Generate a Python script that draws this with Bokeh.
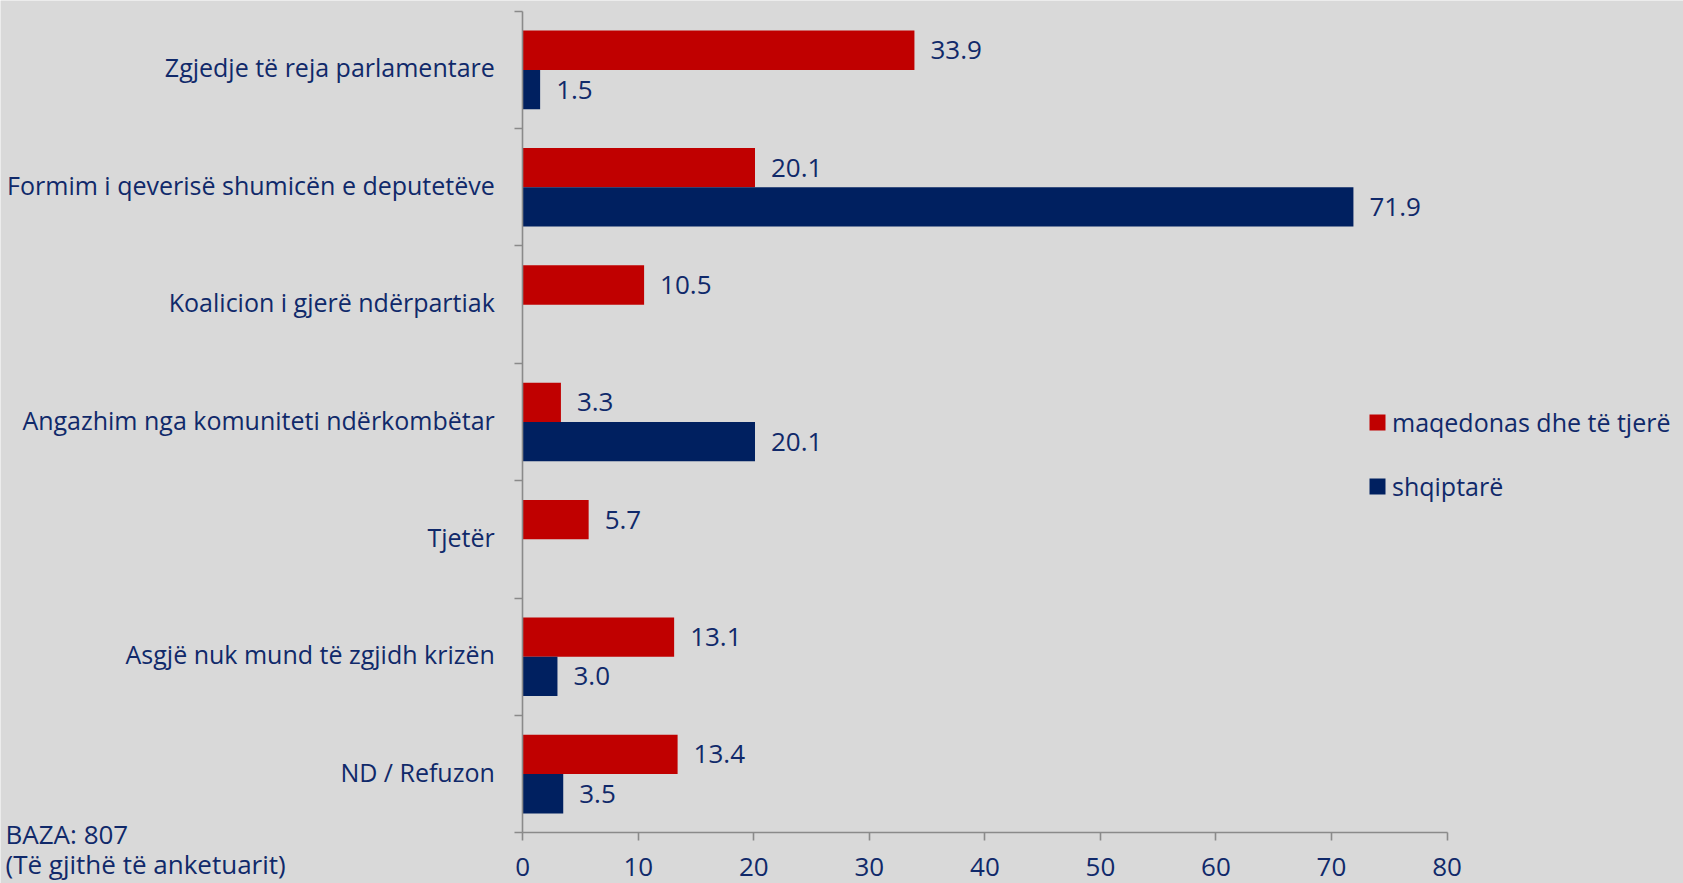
from bokeh.plotting import figure
from bokeh.models import (ColumnDataSource, FixedTicker, Label, LabelSet, Legend,
                          LegendItem, Range1d)
from bokeh.embed import file_html
from bokeh.resources import INLINE
from bokeh.core.properties import value

# ---------------- data ----------------
categories = [
    "Zgjedje të reja parlamentare",
    "Formim i qeverisë shumicën e deputetëve",
    "Koalicion i gjerë ndërpartiak",
    "Angazhim nga komuniteti ndërkombëtar",
    "Tjetër",
    "Asgjë nuk mund të zgjidh krizën",
    "ND / Refuzon",
]
maqedonas = [33.9, 20.1, 10.5, 3.3, 5.7, 13.1, 13.4]
shqiptare = [1.5, 71.9, None, 20.1, None, 3.0, 3.5]
series_names = ["maqedonas dhe të tjerë", "shqiptarë"]
x_ticks = [0, 10, 20, 30, 40, 50, 60, 70, 80]
base_note = ["BAZA: 807", "(Të gjithë të anketuarit)"]

# ---------------- style / layout ----------------
BG = "#D9D9D9"
RED = "#C00000"
BLUE = "#002060"
TXT = "#10296A"
AX = "#8A8A8A"
FONT = "Open Sans"
FS_NUM = "26px"
FS_CAT = "25px"
FS_NOTE = "26px"
BAR_H = 0.335

W, H = 1683, 883
X_MIN, X_MAX = x_ticks[0], x_ticks[-1]
X0_PX, X1_PX = 522.3, 1446.5      # pixel position of axis start / end
Y_TOP_PX, Y_BOT_PX = 10.7, 832.3  # pixel position of category axis top / bottom

n = len(categories)
sx = (X1_PX - X0_PX) / (X_MAX - X_MIN)
sy = (Y_BOT_PX - Y_TOP_PX) / n
x_range = Range1d(X_MIN - X0_PX / sx, X_MAX + (W - X1_PX) / sx)
y_range = Range1d(-(H - Y_BOT_PX) / sy, n + Y_TOP_PX / sy)

centers = [n - 0.5 - i for i in range(n)]
LABEL_NUDGE = 2.5 / sy  # small upward nudge of category labels

red_src = ColumnDataSource(dict(
    y=[c + BAR_H / 2 for c in centers],
    v=maqedonas,
    lab=[f"{v:.1f}" for v in maqedonas],
))
blue_rows = [(c - BAR_H / 2, v) for c, v in zip(centers, shqiptare) if v is not None]
blue_src = ColumnDataSource(dict(
    y=[r[0] for r in blue_rows],
    v=[r[1] for r in blue_rows],
    lab=[f"{r[1]:.1f}" for r in blue_rows],
))

p = figure(width=W, height=H, x_range=x_range, y_range=y_range,
           output_backend="svg", toolbar_location=None, tools="",
           min_border=0, background_fill_color=BG, border_fill_color=BG,
           outline_line_color=None)
p.grid.visible = False

r_red = p.hbar(y="y", left=0, right="v", height=BAR_H, source=red_src,
               fill_color=RED, line_color=None)
r_blue = p.hbar(y="y", left=0, right="v", height=BAR_H, source=blue_src,
                fill_color=BLUE, line_color=None)

for src in (red_src, blue_src):
    p.add_layout(LabelSet(x="v", y="y", text="lab", source=src, x_offset=16,
                          text_baseline="middle", text_align="left",
                          text_font=value(FONT), text_font_size=value(FS_NUM),
                          text_color=value(TXT)))

# x axis (drawn at y = 0, spanning 0..80)
xa = p.xaxis[0]
xa.fixed_location = 0
xa.bounds = (X_MIN, X_MAX)
xa.ticker = FixedTicker(ticks=x_ticks)
xa.major_tick_out = 8
xa.major_tick_in = 0
xa.minor_tick_out = 0
xa.minor_tick_in = 0
xa.axis_line_color = AX
xa.axis_line_width = 1.6
xa.major_tick_line_color = AX
xa.major_tick_line_width = 1.6
xa.major_label_text_font = FONT
xa.major_label_text_font_size = FS_NUM
xa.major_label_text_color = TXT
xa.major_label_standoff = 17

# y axis (drawn at x = 0), labels at category centres, ticks at boundaries
label_pos = [c + LABEL_NUDGE for c in centers]
ya = p.yaxis[0]
ya.fixed_location = 0
ya.bounds = (0, n)
ya.ticker = FixedTicker(ticks=label_pos, minor_ticks=list(range(n + 1)))
ya.major_label_overrides = {c: cat for c, cat in zip(label_pos, categories)}
ya.major_tick_out = 0
ya.major_tick_in = 0
ya.minor_tick_out = 8
ya.minor_tick_in = 0
ya.minor_tick_line_color = AX
ya.minor_tick_line_width = 1.6
ya.axis_line_color = AX
ya.axis_line_width = 1.6
ya.major_label_text_font = FONT
ya.major_label_text_font_size = FS_CAT
ya.major_label_text_color = TXT
ya.major_label_standoff = 20

# base note (bottom-left)
for t, yy in zip(base_note, (50, 20)):
    p.add_layout(Label(x=5, y=yy, x_units="screen", y_units="screen",
                       text=t, text_align="left", text_baseline="middle",
                       text_font=FONT, text_font_size=FS_NOTE, text_color=TXT))

legend = Legend(items=[LegendItem(label=series_names[0], renderers=[r_red]),
                       LegendItem(label=series_names[1], renderers=[r_blue])],
                location=(1367, 380), glyph_width=20, glyph_height=20,
                label_standoff=5, spacing=30, padding=0, margin=0,
                border_line_color=None, background_fill_alpha=0,
                label_text_font=FONT, label_text_font_size=FS_CAT,
                label_text_color=TXT)
p.add_layout(legend)

open("out.html", "w").write(file_html(p, INLINE))
